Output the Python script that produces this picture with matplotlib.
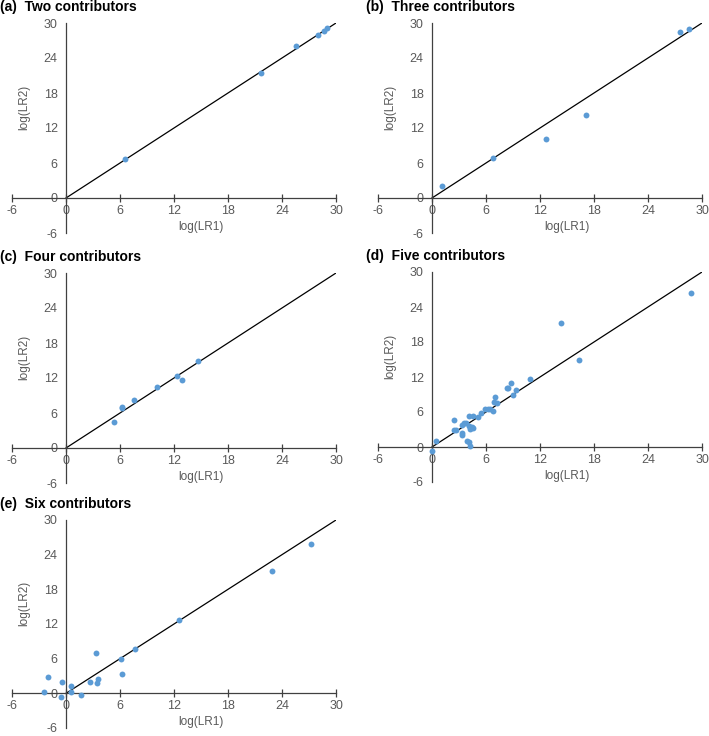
import numpy as np
import matplotlib
matplotlib.use("Agg")
import matplotlib.pyplot as plt

plt.rcParams['font.family'] = ['Liberation Sans', 'DejaVu Sans']
plt.rcParams['axes.unicode_minus'] = False

titles = ['(a)  Two contributors', '(b)  Three contributors', '(c)  Four contributors',
          '(d)  Five contributors', '(e)  Six contributors']

two_x = [6.5, 21.7, 25.5, 28.0, 28.7, 29.0]
two_y = [6.7, 21.4, 26.1, 27.9, 28.6, 29.1]

three_x = [1.1, 6.8, 12.7, 17.1, 27.5, 28.6]
three_y = [2.1, 6.8, 10.2, 14.2, 28.5, 28.9]

four_x = [5.3, 6.2, 6.2, 7.6, 10.1, 12.3, 12.9, 14.7]
four_y = [4.4, 7.1, 6.8, 8.2, 10.4, 12.3, 11.6, 15.0]

five_x = [28.8, 14.3, 16.3, 10.9, 8.8, 8.3, 8.5, 9.3, 9.0, 7.0, 6.9, 7.2, 6.8,
          5.9, 6.2, 6.5, 5.4, 5.1, 4.6, 4.1, 2.4, 2.7, 3.3, 3.6, 3.8, 4.1,
          4.2, 4.5, 4.6, 3.3, 3.3, 3.9, 4.1, 4.2, 0.5, 0.0, 2.5]
five_y = [26.4, 21.2, 15.0, 11.7, 10.9, 10.1, 10.2, 9.8, 8.9, 8.6, 7.7, 7.5, 6.1,
          6.6, 6.6, 6.6, 5.9, 5.1, 5.3, 5.3, 4.7, 3.0, 3.8, 4.1, 4.2, 3.6,
          3.1, 3.4, 3.2, 2.4, 2.0, 1.0, 0.9, 0.2, 1.0, -0.7, 2.9]

six_x = [27.2, 22.9, 12.6, 7.7, 6.1, 6.2, 3.3, 3.6, 3.4, 2.7, 1.7, 0.5, 0.55,
         -0.4, -0.6, -2.0, -2.5]
six_y = [25.9, 21.2, 12.7, 7.6, 6.0, 3.4, 6.9, 2.4, 1.8, 2.0, -0.3, 1.2, 0.3,
         2.0, -0.6, 2.8, 0.2]

xs = [two_x, three_x, four_x, five_x, six_x]
ys = [two_y, three_y, four_y, five_y, six_y]

ticks = [-6, 0, 6, 12, 18, 24, 30]

W, H = 709, 736
# axes rectangles in pixels: left, top, right, bottom
rects = [(12, 23, 336, 233), (378, 23, 702, 233),
         (12, 273, 336, 483), (378, 272, 702, 482),
         (12, 520, 336, 728)]

fig = plt.figure(figsize=(W / 100, H / 100), dpi=100)

for i in range(5):
    l, t, r, b = rects[i]
    ax = fig.add_axes([l / W, 1 - b / H, (r - l) / W, (b - t) / H])
    ax.set_xlim(-6, 30)
    ax.set_ylim(-6, 30)
    ax.spines['left'].set_position(('data', 0))
    ax.spines['bottom'].set_position(('data', 0))
    ax.spines['top'].set_visible(False)
    ax.spines['right'].set_visible(False)
    for s in ['left', 'bottom']:
        ax.spines[s].set_color('#404040')
        ax.spines[s].set_linewidth(0.9)
    ax.set_xticks(ticks)
    ax.set_yticks(ticks)
    ax.tick_params(axis='x', direction='inout', length=6, width=0.9, color='#404040',
                   labelsize=9, labelcolor='#595959', pad=2)
    ax.tick_params(axis='y', length=0, labelsize=9, labelcolor='#595959', pad=6)
    ax.patch.set_alpha(0)

    ax.plot([0, 30], [0, 30], color='black', lw=0.9, zorder=2)
    ax.scatter(xs[i], ys[i], s=18, color='#5B9BD5', zorder=3, clip_on=False, linewidths=0)

    ax.text(15, -4.9, 'log(LR1)', ha='center', va='center', fontsize=8.5, color='#595959')
    ax.text(-4.6, 15.5, 'log(LR2)', ha='center', va='center', rotation=90,
            fontsize=8.5, color='#595959')

    fig.text((l - 12) / W, 1 - (t - 16) / H, titles[i],
             ha='left', va='center', fontsize=10, fontweight='bold')

fig.savefig('out.png', dpi=100)
